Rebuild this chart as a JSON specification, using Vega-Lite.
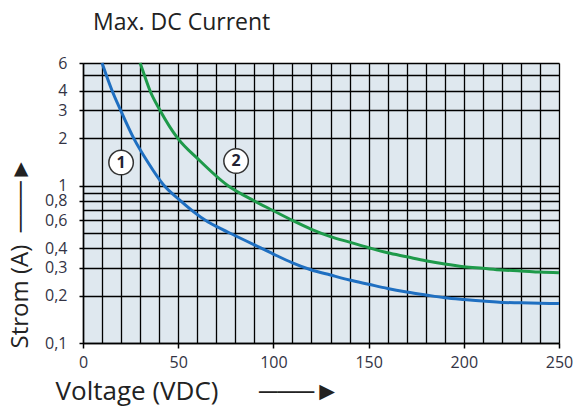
{
  "$schema": "https://vega.github.io/schema/vega-lite/v6.json",
  "width": 476,
  "height": 280,
  "autosize": {"type": "none"},
  "padding": {"left": 83, "top": 63, "right": 14, "bottom": 64},
  "background": "white",
  "title": {
    "text": "Max. DC Current",
    "anchor": "start",
    "frame": "group",
    "dx": 10,
    "offset": 20,
    "font": "Open Sans",
    "fontSize": 23,
    "fontWeight": "normal",
    "color": "#222222"
  },
  "config": {
    "view": {"fill": "#dfe8ef", "stroke": null},
    "axis": {
      "grid": true,
      "gridColor": "#000000",
      "gridWidth": 1.3,
      "gridOpacity": 1,
      "domainColor": "#000000",
      "domainWidth": 1.5,
      "tickColor": "#000000",
      "tickWidth": 1.5,
      "labelFont": "Open Sans",
      "labelFontSize": 16,
      "labelColor": "#333344",
      "labelOverlap": false,
      "titleFont": "Open Sans",
      "titleFontWeight": "normal",
      "titleColor": "#222222"
    }
  },
  "datasets": {
    "curves": [
      {"series": "1", "V": 10, "I": 6},
      {"series": "1", "V": 12.3, "I": 5},
      {"series": "1", "V": 15.3, "I": 4},
      {"series": "1", "V": 19.8, "I": 3},
      {"series": "1", "V": 26.6, "I": 2},
      {"series": "1", "V": 34, "I": 1.41},
      {"series": "1", "V": 42, "I": 1.02},
      {"series": "1", "V": 50.5, "I": 0.815},
      {"series": "1", "V": 64.5, "I": 0.6},
      {"series": "1", "V": 70, "I": 0.55},
      {"series": "1", "V": 80, "I": 0.48},
      {"series": "1", "V": 90, "I": 0.42},
      {"series": "1", "V": 100, "I": 0.367},
      {"series": "1", "V": 110, "I": 0.323},
      {"series": "1", "V": 120, "I": 0.291},
      {"series": "1", "V": 130, "I": 0.27},
      {"series": "1", "V": 140, "I": 0.251},
      {"series": "1", "V": 150, "I": 0.236},
      {"series": "1", "V": 160, "I": 0.222},
      {"series": "1", "V": 170, "I": 0.211},
      {"series": "1", "V": 180, "I": 0.202},
      {"series": "1", "V": 190, "I": 0.194},
      {"series": "1", "V": 200, "I": 0.189},
      {"series": "1", "V": 210, "I": 0.185},
      {"series": "1", "V": 220, "I": 0.181},
      {"series": "1", "V": 230, "I": 0.18},
      {"series": "1", "V": 240, "I": 0.179},
      {"series": "1", "V": 250, "I": 0.178},
      {"series": "2", "V": 30, "I": 6},
      {"series": "2", "V": 32.3, "I": 5},
      {"series": "2", "V": 35.2, "I": 4},
      {"series": "2", "V": 40.5, "I": 3},
      {"series": "2", "V": 49.7, "I": 2},
      {"series": "2", "V": 60.5, "I": 1.47},
      {"series": "2", "V": 76, "I": 1.0},
      {"series": "2", "V": 90, "I": 0.798},
      {"series": "2", "V": 100, "I": 0.692},
      {"series": "2", "V": 110, "I": 0.6},
      {"series": "2", "V": 120, "I": 0.527},
      {"series": "2", "V": 130, "I": 0.474},
      {"series": "2", "V": 140, "I": 0.437},
      {"series": "2", "V": 150, "I": 0.403},
      {"series": "2", "V": 160, "I": 0.374},
      {"series": "2", "V": 170, "I": 0.353},
      {"series": "2", "V": 180, "I": 0.333},
      {"series": "2", "V": 190, "I": 0.317},
      {"series": "2", "V": 200, "I": 0.305},
      {"series": "2", "V": 210, "I": 0.298},
      {"series": "2", "V": 220, "I": 0.291},
      {"series": "2", "V": 230, "I": 0.287},
      {"series": "2", "V": 240, "I": 0.282},
      {"series": "2", "V": 250, "I": 0.279}
    ],
    "labels": [
      {"label": "1", "V": 20, "I": 1.4},
      {"label": "2", "V": 80.4, "I": 1.43}
    ]
  },
  "encoding": {
    "x": {
      "field": "V",
      "type": "quantitative",
      "scale": {"domain": [0, 250], "nice": false},
      "axis": {
        "values": [0, 10, 20, 30, 40, 50, 60, 70, 80, 90, 100, 110, 120, 130, 140, 150, 160, 170, 180, 190, 200, 210, 220, 230, 240, 250],
        "labelExpr": "datum.value % 50 == 0 ? toString(datum.value) : ''",
        "tickOpacity": {"condition": {"test": "datum.value % 50 == 0", "value": 1}, "value": 0},
        "tickSize": 5,
        "labelPadding": 6,
        "labelFlush": false,
        "title": "Voltage (VDC)\u00a0\u00a0\u00a0\u00a0\u00a0\u00a0───►",
        "titleFontSize": 26,
        "titleAnchor": "start",
        "titleAlign": "left",
        "titleBaseline": "middle",
        "titleX": -28,
        "titleY": 48
      }
    },
    "y": {
      "field": "I",
      "type": "quantitative",
      "scale": {"type": "log", "domain": [0.1, 6], "nice": false},
      "axis": {
        "values": [0.1, 0.2, 0.3, 0.4, 0.5, 0.6, 0.7, 0.8, 0.9, 1, 2, 3, 4, 5, 6],
        "labelExpr": "indexof([0.1, 0.2, 0.3, 0.4, 0.6, 0.8, 1, 2, 3, 4, 6], datum.value) >= 0 ? replace(toString(datum.value), '.', ',') : ''",
        "tickOpacity": {"condition": {"test": "indexof([0.1, 0.2, 0.3, 0.4, 0.6, 0.8, 1, 2, 3, 4, 6], datum.value) >= 0", "value": 1}, "value": 0},
        "tickSize": 4,
        "labelPadding": 12,
        "labelFlush": false,
        "title": "Strom (A)\u00a0\u00a0───►",
        "titleFontSize": 24,
        "titleAngle": -90,
        "titleAlign": "left",
        "titleBaseline": "middle",
        "titleX": -63,
        "titleY": 285
      }
    }
  },
  "layer": [
    {
      "data": {"name": "curves"},
      "mark": {"type": "line", "interpolate": "monotone", "strokeWidth": 3},
      "encoding": {
        "color": {
          "field": "series",
          "type": "nominal",
          "scale": {"domain": ["1", "2"], "range": ["#1f6fc1", "#1e9a4a"]},
          "legend": null
        }
      }
    },
    {
      "data": {"name": "labels"},
      "mark": {"type": "point", "shape": "circle", "filled": true, "fill": "white", "stroke": "#333333", "strokeWidth": 1.5, "size": 600, "opacity": 1}
    },
    {
      "data": {"name": "labels"},
      "mark": {"type": "text", "font": "Open Sans", "fontSize": 16, "fontWeight": "bold", "color": "#222233", "baseline": "middle", "align": "center"},
      "encoding": {"text": {"field": "label"}}
    }
  ]
}
